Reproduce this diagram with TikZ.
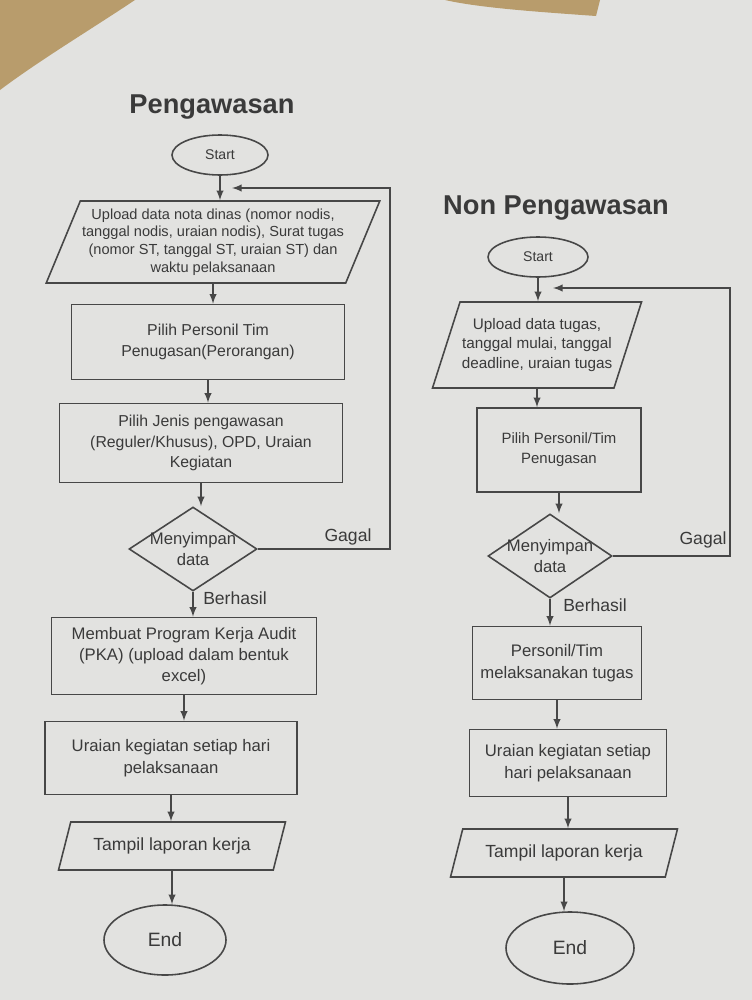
\documentclass[tikz,border=0pt]{standalone}
\usepackage{fontspec}
\setmainfont{Liberation Sans}
\usetikzlibrary{arrows, shapes.geometric}
\definecolor{ink}{HTML}{3A3A3A}
\definecolor{line}{HTML}{474747}
\definecolor{paper}{HTML}{E2E2E0}
\definecolor{wood}{HTML}{B89C6C}

\begin{document}
\begin{tikzpicture} [x = 0.2mm, y = -0.2mm, >=latex,
  every node/.style = {text = ink, font = \fontsize{9}{11.5}\selectfont},
  proc/.style = {draw = line, line width = 0.9pt, rectangle, align = center, inner sep = 1pt},
  io/.style = {draw = line, line width = 0.9pt, trapezium, trapezium left angle = 64, trapezium right angle = 116, trapezium stretches = true, align = center, inner sep = 1pt},
  dec/.style = {draw = line, line width = 0.9pt, diamond, inner sep = 0pt},
  term/.style = {draw = line, line width = 0.9pt, ellipse, inner sep = 0pt},
  flow/.style = {draw = line, line width = 0.9pt, ->},
  title/.style = {font = \fontsize{15.5}{18}\selectfont\bfseries, text = ink}]
\useasboundingbox (0,0) rectangle (752,1000);
\fill [paper] (0,0) rectangle (752,1000);
\fill [wood] (0,0) -- (135,0) .. controls (90,30) and (40,60) .. (0,90) -- cycle;
\fill [wood] (445,0) -- (600,0) -- (596,16) .. controls (540,12) and (480,8) .. (445,0) -- cycle;

\node [title] (t1) at (212,107) {Pengawasan};
\node [term, minimum width = 19.2mm, minimum height = 8mm, font = \fontsize{8}{9}\selectfont] (start1) at (220,155) {Start};
\node [io, minimum width = 66.4mm, minimum height = 16.4mm, font = \fontsize{8.3}{10}\selectfont] (up1) at (213,242) {Upload data nota dinas (nomor nodis,\\tanggal nodis, uraian nodis), Surat tugas\\(nomor ST, tanggal ST, uraian ST) dan\\waktu pelaksanaan};
\node [proc, minimum width = 54.6mm, minimum height = 15mm] (pilih1) at (208,342) {Pilih Personil Tim\\Penugasan(Perorangan)};
\node [proc, minimum width = 56.6mm, minimum height = 15.8mm] (jenis1) at (201,443) {Pilih Jenis pengawasan\\(Reguler/Khusus), OPD, Uraian\\Kegiatan};
\node [dec, minimum width = 25.6mm, minimum height = 16.8mm, label = {[align = center, font = \fontsize{9.5}{12}\selectfont]center:Menyimpan\\data}] (dec1) at (193,549) {};
\node [proc, minimum width = 53mm, minimum height = 15.4mm, font = \fontsize{9.5}{12}\selectfont] (pka1) at (184,656) {Membuat Program Kerja Audit\\(PKA) (upload dalam bentuk\\excel)};
\node [proc, minimum width = 50.4mm, minimum height = 14.6mm, font = \fontsize{9.5}{12.5}\selectfont] (urai1) at (171,758) {Uraian kegiatan setiap hari\\pelaksanaan};
\node [io, minimum width = 45.4mm, minimum height = 9.6mm, font = \fontsize{10}{12}\selectfont] (tamp1) at (172,846) {Tampil laporan kerja};
\node [term, minimum width = 24.4mm, minimum height = 14mm, font = \fontsize{11}{13}\selectfont] (end1) at (165,940) {End};
\node [font = \fontsize{10}{12}\selectfont] (gagal1) at (348,537) {Gagal};
\node [font = \fontsize{10}{12}\selectfont] (ok1) at (235,598) {Berhasil};
\coordinate (loop1) at (390,188);
\coordinate (ret1) at (232,188);

\node [title] (t2) at (556,208) {Non Pengawasan};
\node [term, minimum width = 20mm, minimum height = 8mm, font = \fontsize{8}{9}\selectfont] (start2) at (538,257) {Start};
\node [io, minimum width = 41.6mm, minimum height = 17.2mm, font = \fontsize{8.7}{11}\selectfont] (up2) at (537,345) {Upload data tugas,\\tanggal mulai, tanggal\\deadline, uraian tugas};
\node [proc, minimum width = 32.8mm, minimum height = 16.8mm, font = \fontsize{8.5}{11.5}\selectfont] (pilih2) at (559,450) {Pilih Personil/Tim\\Penugasan};
\node [dec, minimum width = 24.8mm, minimum height = 16.8mm, label = {[align = center, font = \fontsize{9.5}{12}\selectfont]center:Menyimpan\\data}] (dec2) at (550,556) {};
\node [proc, minimum width = 33.8mm, minimum height = 14.6mm, font = \fontsize{9.5}{12.5}\selectfont] (pers2) at (557,663) {Personil/Tim\\melaksanakan tugas};
\node [proc, minimum width = 39.4mm, minimum height = 13.4mm, font = \fontsize{9.5}{12.5}\selectfont] (urai2) at (568,763) {Uraian kegiatan setiap\\hari pelaksanaan};
\node [io, minimum width = 45.4mm, minimum height = 9.6mm, font = \fontsize{10}{12}\selectfont] (tamp2) at (564,853) {Tampil laporan kerja};
\node [term, minimum width = 25.6mm, minimum height = 14.4mm, font = \fontsize{11}{13}\selectfont] (end2) at (570,948) {End};
\node [font = \fontsize{10}{12}\selectfont] (gagal2) at (703,540) {Gagal};
\node [font = \fontsize{10}{12}\selectfont] (ok2) at (595,605) {Berhasil};
\coordinate (loop2) at (730,288);
\coordinate (ret2) at (553,288);

\draw [flow] (start1.south) -- (start1.south |- up1.north);
\draw [flow] (up1.south) -- (up1.south |- pilih1.north);
\draw [flow] (pilih1.south) -- (pilih1.south |- jenis1.north);
\draw [flow] (jenis1.south) -- (jenis1.south |- dec1.north);
\draw [flow] (dec1.south) -- (dec1.south |- pka1.north);
\draw [flow] (pka1.south) -- (pka1.south |- urai1.north);
\draw [flow] (urai1.south) -- (urai1.south |- tamp1.north);
\draw [flow] (tamp1.south) -- (tamp1.south |- end1.north);
\draw [flow] (dec1.east) -| (loop1) -- (ret1);

\draw [flow] (start2.south) -- (start2.south |- up2.north);
\draw [flow] (up2.south) -- (up2.south |- pilih2.north);
\draw [flow] (pilih2.south) -- (pilih2.south |- dec2.north);
\draw [flow] (dec2.south) -- (dec2.south |- pers2.north);
\draw [flow] (pers2.south) -- (pers2.south |- urai2.north);
\draw [flow] (urai2.south) -- (urai2.south |- tamp2.north);
\draw [flow] (tamp2.south) -- (tamp2.south |- end2.north);
\draw [flow] (dec2.east) -| (loop2) -- (ret2);
\end{tikzpicture}
\end{document}
